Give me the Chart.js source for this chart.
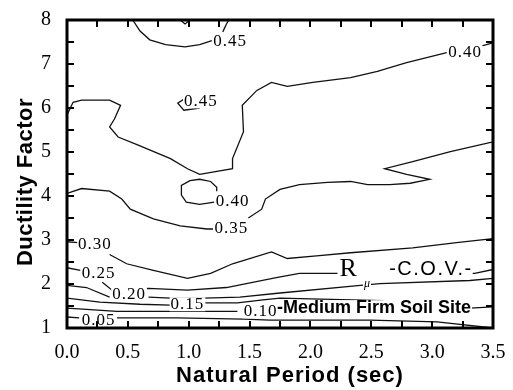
<!DOCTYPE html>
<html>
<head>
<meta charset="utf-8">
<script src="https://cdn.jsdelivr.net/npm/chart.js@4.4.1/dist/chart.umd.min.js"></script>
<style>
  html, body { margin: 0; padding: 0; background: #fff; }
  #wrap { width: 513px; height: 390px; position: relative; }
</style>
</head>
<body>
<div id="wrap"><canvas id="cov"></canvas></div>
<script>
// axis ranges
const periodRange = [0, 3.5];
const ductilityRange = [1, 8];

// contour lines of R_mu C.O.V., points are [period (sec), ductility factor]
const c050Tip = [[0.93, 8.00], [0.97, 7.91], [1.01, 8.00]];
const c045Top = [[0.54, 8.00], [0.60, 7.75], [0.68, 7.55], [0.81, 7.44], [0.97, 7.39], [1.09, 7.44], [1.19, 7.53]];
const c045TopEnd = [[1.28, 7.73], [1.31, 7.91], [1.33, 8.00]];
const c045Loop = [[1.01, 6.29], [0.91, 6.11], [0.96, 5.95], [1.09, 6.00]];
const c040Main = [[0.00, 5.84], [0.05, 6.13], [0.12, 6.18], [0.35, 6.18], [0.44, 6.06], [0.39, 5.75],
  [0.35, 5.57], [0.42, 5.34], [0.58, 5.16], [0.85, 4.85], [0.99, 4.62], [1.09, 4.49], [1.36, 4.62],
  [1.36, 4.85], [1.45, 5.46], [1.44, 6.06], [1.56, 6.40], [1.68, 6.58], [1.81, 6.49], [2.02, 6.58],
  [2.33, 6.69], [2.55, 6.83], [2.79, 7.03], [3.12, 7.26]];
const c040End = [[3.41, 7.41], [3.50, 7.48]];
const c040Loop = [[1.23, 4.11], [1.23, 4.20], [1.18, 4.33], [1.09, 4.38], [1.01, 4.35], [0.94, 4.24],
  [0.94, 4.02], [0.98, 3.86], [1.09, 3.81], [1.21, 3.86]];
const c035a = [[0.00, 4.06], [0.12, 4.17], [0.35, 4.11], [0.45, 3.93], [0.52, 3.70], [0.71, 3.48],
  [0.93, 3.32], [1.15, 3.25], [1.20, 3.25]];
const c035b = [[1.49, 3.50], [1.60, 3.70], [1.63, 3.93], [1.75, 4.15], [1.91, 4.26], [2.14, 4.31],
  [2.33, 4.33], [2.47, 4.26], [2.65, 4.26], [2.82, 4.29], [2.98, 4.38], [2.79, 4.49], [2.61, 4.62],
  [2.84, 4.78], [3.15, 5.01], [3.50, 5.23]];
const c030a = [[0.00, 2.96], [0.09, 2.94]];
const c030b = [[0.35, 2.67], [0.49, 2.46], [0.71, 2.31], [0.99, 2.13], [1.18, 2.24], [1.36, 2.46],
  [1.68, 2.73], [1.81, 2.58], [2.05, 2.64], [2.33, 2.71], [2.84, 2.82], [3.20, 2.94], [3.50, 3.03]];
const c025a = [[0.00, 2.37], [0.11, 2.31]];
const c025b = [[0.29, 2.04], [0.37, 1.86], [0.67, 1.90], [0.99, 1.86], [1.31, 1.92], [1.73, 2.15],
  [1.91, 2.24], [2.22, 2.24], [3.35, 2.24], [3.50, 2.33]];
const c020a = [[0.00, 1.97], [0.16, 1.92], [0.35, 1.70]];
const c020b = [[0.67, 1.70], [0.85, 1.68], [1.12, 1.68], [1.42, 1.70], [1.73, 1.79], [2.41, 1.97],
  [2.57, 2.01], [3.31, 2.08], [3.50, 2.13]];
const c015a = [[0.00, 1.68], [0.27, 1.59], [0.60, 1.54], [0.85, 1.52]];
const c015b = [[1.12, 1.57], [1.40, 1.57], [1.61, 1.64], [1.75, 1.68], [2.60, 1.62]];
const c010a = [[0.00, 1.45], [0.41, 1.38], [0.90, 1.38], [1.40, 1.38]];
const c010b = [[1.75, 1.40], [3.00, 1.42], [3.31, 1.45], [3.50, 1.48]];
const c005a = [[0.00, 1.25], [0.10, 1.23]];
const c005b = [[0.41, 1.23], [0.90, 1.23], [1.45, 1.20], [1.67, 1.18], [2.49, 1.18], [3.04, 1.14], [3.50, 1.00]];

// in-line level labels
const labelText = ["0.45", "0.45", "0.40", "0.40", "0.35", "0.30", "0.25", "0.20", "0.15", "0.10", "0.05"];
const labelX = [1.34, 1.10, 3.27, 1.36, 1.35, 0.23, 0.26, 0.51, 0.99, 1.59, 0.26];
const labelY = [7.50, 6.15, 7.26, 3.88, 3.27, 2.89, 2.24, 1.77, 1.54, 1.38, 1.18];

const lines = [c050Tip, c045Top, c045TopEnd, c045Loop, c040Main, c040End, c040Loop, c035a, c035b,
  c030a, c030b, c025a, c025b, c020a, c020b, c015a, c015b, c010a, c010b, c005a, c005b];

const datasets = lines.map((pts) => ({
  data: pts.map(([x, y]) => ({ x, y })),
  showLine: true,
  borderColor: "#111",
  borderWidth: 1.3,
  pointRadius: 0,
  fill: false,
  tension: 0,
}));

const SERIF = '"Liberation Serif", "Times New Roman", serif';
const SANS = '"Liberation Sans", Arial, sans-serif';

function maskedText(ctx, text, px, py, h) {
  const w = ctx.measureText(text).width;
  ctx.fillStyle = "#fff";
  ctx.fillRect(px - w / 2 - 1, py - h / 2, w + 2, h);
  ctx.fillStyle = "#000";
  ctx.fillText(text, px, py);
}

// level labels and the caption text inside the plot
const labelPlugin = {
  id: "levelLabels",
  afterDatasetsDraw(chart) {
    const { ctx, scales: { x, y } } = chart;
    ctx.save();
    ctx.textAlign = "center";
    ctx.textBaseline = "middle";
    ctx.font = "17px " + SERIF;
    ctx.letterSpacing = "1px";
    labelText.forEach((t, i) => {
      maskedText(ctx, t, x.getPixelForValue(labelX[i]), y.getPixelForValue(labelY[i]), 14);
    });

    // R_mu -C.O.V.-
    const rx = x.getPixelForValue(2.31), ry = y.getPixelForValue(2.37);
    const cx = x.getPixelForValue(2.99), cy = y.getPixelForValue(2.34);
    ctx.letterSpacing = "0px";
    ctx.font = "26px " + SERIF;
    const rw = ctx.measureText("R").width;
    ctx.font = "20px " + SANS;
    ctx.letterSpacing = "1.5px";
    const cw = ctx.measureText("-C.O.V.-").width;
    ctx.fillStyle = "#fff";
    ctx.fillRect(rx - rw / 2 - 2, ry - 9, (cx + cw / 2) - (rx - rw / 2) + 2, 19);
    ctx.fillStyle = "#000";
    ctx.fillText("-C.O.V.-", cx, cy);
    ctx.letterSpacing = "0px";
    ctx.font = "26px " + SERIF;
    ctx.fillText("R", rx, ry + 1);
    ctx.font = "italic 12px " + SERIF;
    maskedText(ctx, "\u03bc", x.getPixelForValue(2.465), y.getPixelForValue(2.01), 10);

    // site caption
    ctx.font = "bold 18px " + SANS;
    ctx.textAlign = "left";
    const sx = x.getPixelForValue(1.775), sy = y.getPixelForValue(1.45);
    const sw = ctx.measureText("Medium Firm Soil Site").width;
    ctx.fillStyle = "#fff";
    ctx.fillRect(sx - 6, sy - 8, sw + 7, 16);
    ctx.fillStyle = "#000";
    ctx.fillText("-Medium Firm Soil Site", sx - 6, sy);
    ctx.restore();
  },
};

// heavy frame, inward ticks on all four sides, axis titles
const framePlugin = {
  id: "frame",
  afterDraw(chart) {
    const { ctx, chartArea: a, scales: { x, y } } = chart;
    ctx.save();
    ctx.strokeStyle = "#000";
    ctx.lineWidth = 2;
    ctx.beginPath();
    for (let v = periodRange[0]; v <= periodRange[1] + 1e-6; v += 0.25) {
      const px = Math.round(x.getPixelForValue(v));
      ctx.moveTo(px, a.bottom); ctx.lineTo(px, a.bottom - 7);
      ctx.moveTo(px, a.top); ctx.lineTo(px, a.top + 7);
    }
    for (let v = ductilityRange[0]; v <= ductilityRange[1] + 1e-6; v += 0.5) {
      const py = Math.round(y.getPixelForValue(v));
      ctx.moveTo(a.left, py); ctx.lineTo(a.left + 7, py);
      ctx.moveTo(a.right, py); ctx.lineTo(a.right - 7, py);
    }
    ctx.stroke();
    ctx.lineWidth = 3;
    ctx.strokeRect(a.left, a.top, a.right - a.left, a.bottom - a.top);

    ctx.fillStyle = "#000";
    ctx.textAlign = "center";
    ctx.textBaseline = "middle";
    ctx.font = "bold 22px " + SANS;
    ctx.letterSpacing = "1px";
    ctx.fillText("Natural Period (sec)", (a.left + a.right) / 2 + 10, a.bottom + 48);
    ctx.translate(a.left - 41, (a.top + a.bottom) / 2 + 8);
    ctx.rotate(-Math.PI / 2);
    ctx.letterSpacing = "0.5px";
    ctx.fillText("Ductility Factor", 0, 0);
    ctx.restore();
  },
};

new Chart(document.getElementById("cov"), {
  type: "scatter",
  data: { datasets },
  plugins: [labelPlugin, framePlugin],
  options: {
    responsive: true,
    maintainAspectRatio: false,
    animation: false,
    layout: { padding: { top: 17, right: 20, left: 0, bottom: 0 } },
    plugins: { legend: { display: false }, tooltip: { enabled: false } },
    scales: {
      x: {
        type: "linear",
        min: periodRange[0],
        max: periodRange[1],
        afterFit: (s) => { s.height = 62; },
        grid: { display: false },
        border: { display: false },
        ticks: {
          stepSize: 0.5,
          padding: 5,
          color: "#000",
          font: { family: SERIF, size: 20 },
          callback: (v) => Number(v).toFixed(1),
        },
      },
      y: {
        type: "linear",
        min: ductilityRange[0],
        max: ductilityRange[1],
        afterFit: (s) => { s.width = 67; },
        grid: { display: false },
        border: { display: false },
        ticks: {
          stepSize: 1,
          padding: 8,
          color: "#000",
          font: { family: SERIF, size: 20 },
        },
      },
    },
  },
});
</script>
</body>
</html>
